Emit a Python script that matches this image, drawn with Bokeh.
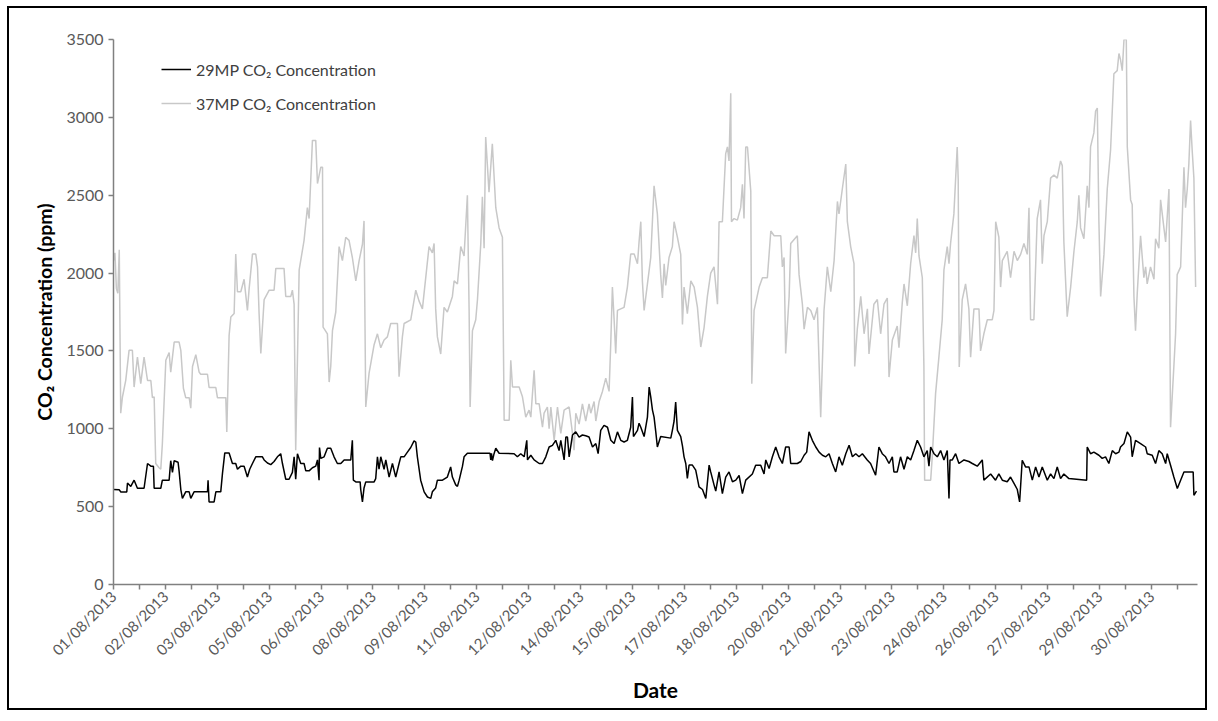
import math
from bokeh.plotting import figure
from bokeh.models import Range1d, FixedTicker, Legend, LegendItem
from bokeh.embed import file_html
from bokeh.resources import INLINE

# x values are hours since 01/08/2013 00:00
date_labels = ["01/08/2013", "02/08/2013", "03/08/2013", "05/08/2013", "06/08/2013",
               "08/08/2013", "09/08/2013", "11/08/2013", "12/08/2013", "14/08/2013",
               "15/08/2013", "17/08/2013", "18/08/2013", "20/08/2013", "21/08/2013",
               "23/08/2013", "24/08/2013", "26/08/2013", "27/08/2013", "29/08/2013",
               "30/08/2013"]
tick_hours = [18 * i for i in range(42)]
y_ticks = [0, 500, 1000, 1500, 2000, 2500, 3000, 3500]

gray_h = [0, 1, 2, 3, 4, 5, 6.2, 8.5, 10.8, 13.1, 14.3, 16.6, 18.9, 21.2, 23.6, 25.9, 27, 28.2,
          29.3, 31.6, 32.8, 33.9, 36.3, 38.6, 39.7, 42.1, 45.5, 46.7, 48.5, 50.1, 52.5, 53.6,
          54.8, 57.1, 59.4, 60.5, 65.2, 66.3, 71, 72.1, 77.9, 78.6, 80.2, 81.4, 83.7, 84.8, 86,
          88.3, 90.6, 92.9, 94.1, 96.4, 98.7, 99.9, 101, 102.2, 104.5, 108, 111.4, 112.6,
          118.3, 119.5, 123, 124.1, 125.3, 126.4, 128.8, 132.2, 134.5, 135.7, 138, 140.3,
          141.5, 143.8, 145, 145.4, 148.4, 149.6, 150.7, 151.9, 154.2, 156.5, 158.8, 161.1,
          163.4, 165.7, 168.1, 170.4, 172.7, 173.8, 175, 177.3, 180.8, 183.1, 185.4, 187.7,
          190, 192.3, 197, 198.1, 200.4, 201.6, 206.2, 209.7, 212, 214.3, 218.9, 221.2,
          222.4, 223.5, 224.7, 227, 229.3, 231.6, 235.1, 236.3, 238.6, 240.9, 243.2, 245.5,
          246.7, 247.4, 249, 251.3, 252.5, 254.8, 255.9, 257.1, 258.2, 260.5, 262.8, 265.2,
          267.5, 269.8, 271, 274.5, 275.6, 276.8, 281.4, 283.7, 286, 288.3, 289.5, 291.8,
          293, 295.3, 297.6, 298.7, 301, 302.2, 303.4, 305.7, 308, 310.3, 312.6, 316.1,
          318.4, 319.5, 320.7, 323, 325.3, 327.6, 329.9, 331.1, 333.4, 334.6, 336.9, 339.2,
          341.5, 343.8, 345, 346.1, 347.3, 348.4, 349.6, 354.2, 356.5, 358.8, 361.2, 363.5,
          364.6, 365.8, 366.9, 368.1, 370.4, 372.7, 375, 377.3, 379.6, 380.8, 382, 383.1,
          385.4, 387.7, 388.9, 391.2, 393.5, 394.7, 395.8, 398.1, 400.5, 402.8, 405.1,
          407.4, 409.7, 412, 414.3, 416.6, 419, 420.1, 422.4, 424.7, 425.9, 427, 428.2,
          428.7, 430.5, 432.8, 435.1, 436.3, 437.4, 438.6, 439.8, 442.1, 442.8, 444.4,
          447.9, 450.2, 453.6, 456, 458.3, 462.9, 464, 465.2, 466.3, 468.7, 469.8, 474.4,
          475.6, 477.9, 479.1, 481.4, 483.7, 486, 488.3, 490.6, 492.9, 495.2, 497.6, 499.9,
          502.2, 503.3, 505.6, 508, 509.1, 511.4, 513.7, 514.2, 516, 518.4, 520.7, 523,
          524.1, 527.5, 529.9, 532.2, 534.5, 536.8, 538, 540.3, 543.7, 544.9, 547.2, 548.4,
          550.7, 553, 555.3, 556.5, 557.6, 558.8, 561.1, 562.2, 562.7, 566.9, 568, 570.3,
          572.6, 574.9, 576.1, 578.4, 579.6, 580.7, 583, 585.3, 586, 586.7, 588.8, 591.1,
          593.4, 594.6, 596.9, 600.4, 601.5, 603.8, 606.2, 609.6, 610.8, 612, 614.2, 615.4,
          616.6, 620, 622.3, 624.7, 627, 629.3, 631.6, 633.9, 635.1, 636.2, 638.5, 640.8,
          643.1, 644.3, 645.5, 647.8, 650.1, 652.4, 654.7, 657, 658.2, 659.3, 661.6, 664,
          666.3, 668.6, 669.7, 670.9, 673.2, 675.5, 676.7, 677.8, 680.1, 681.3, 682.5,
          683.6, 684.8, 687.1, 689.4, 691.7, 694, 696.3, 697.5, 698.6, 699.8, 701, 702.6,
          703.3, 705.6, 706.7, 707.9, 709, 710.2, 712.5, 714.8, 716, 717.1, 719.4, 721.8,
          722.9, 725.2, 726.4, 728.7, 729.9, 732.2, 733.3, 735.6, 736.8, 737.9, 740.3,
          742.6, 743.7, 744.9, 746, 747.2, 748.3, 749.5, 750.7]
gray_v = [2080, 2130, 1900, 1870, 2150, 1100, 1204, 1311, 1504, 1504, 1268, 1460, 1290, 1460,
          1310, 1310, 1200, 1205, 777, 750, 740, 904, 1440, 1490, 1363, 1557, 1557, 1504,
          1260, 1200, 1200, 1132, 1400, 1476, 1364, 1350, 1350, 1265, 1265, 1200, 1200, 980,
          1600, 1718, 1740, 2122, 1880, 1880, 1960, 1760, 1900, 2122, 2122, 2040, 1740, 1483,
          1830, 1890, 1890, 2030, 2030, 1850, 1850, 1890, 1800, 862, 2020, 2210, 2420, 2350,
          2852, 2852, 2575, 2680, 2680, 1653, 1610, 1300, 1400, 1630, 1750, 2170, 2080, 2230,
          2210, 2100, 1950, 2080, 2185, 2335, 1140, 1357, 1540, 1610, 1520, 1570, 1590, 1676,
          1676, 1335, 1590, 1676, 1700, 1890, 1820, 1770, 2170, 2130, 2190, 1770, 1590, 1480,
          1780, 1750, 1850, 1950, 1930, 2170, 2110, 2500, 1760, 1140, 1630, 1700, 1830, 2190,
          2490, 2160, 2873, 2520, 2830, 2420, 2290, 2230, 1055, 1055, 1440, 1268, 1268, 1205,
          1075, 1120, 1075, 1375, 1160, 1160, 1010, 1100, 1140, 1000, 1140, 926, 1140, 970,
          1120, 1140, 970, 862, 1100, 1030, 1160, 1050, 1160, 1100, 1175, 1050, 1175, 1240,
          1325, 1240, 1560, 1910, 1700, 1483, 1760, 1780, 1910, 2122, 2122, 2060, 2200, 2330,
          1950, 1760, 1930, 2100, 2560, 2380, 1990, 1840, 2060, 1920, 2100, 2170, 2330, 2230,
          2120, 1670, 1910, 1740, 1950, 1910, 1780, 1525, 1650, 1850, 2000, 2040, 1800, 2330,
          2330, 2767, 2810, 2720, 3155, 2330, 2350, 2340, 2420, 2570, 2350, 2810, 2810, 2525,
          1290, 1760, 1910, 1970, 1970, 2270, 2240, 2240, 2040, 2100, 1483, 1850, 2190, 2240,
          1990, 1800, 1640, 1780, 1760, 1700, 1780, 1075, 1760, 2040, 1880, 2080, 2460, 2380,
          2540, 2700, 2330, 2170, 2060, 1400, 1640, 1850, 1610, 1770, 1480, 1800, 1830, 1610,
          1800, 1840, 1332, 1570, 1660, 1520, 1810, 1930, 1790, 2060, 2240, 2130, 2350, 2110,
          1970, 1400, 670, 670, 820, 1226, 1460, 1700, 2020, 2170, 2060, 2190, 2380, 2810,
          2600, 1397, 1830, 1930, 1770, 1460, 1770, 1770, 1500, 1610, 1700, 1700, 1760, 2330,
          2230, 1910, 2080, 2140, 1970, 2140, 2080, 2120, 2190, 2120, 2420, 1700, 1700, 2350,
          2470, 2060, 2240, 2330, 2610, 2630, 2610, 2720, 2690, 2200, 1720, 1910, 2140, 2330,
          2500, 2290, 2220, 2560, 2420, 2810, 2900, 3040, 3060, 2330, 1850, 2120, 2540, 2790,
          3280, 3300, 3410, 3370, 3300, 3500, 3500, 2810, 2470, 2440, 1850, 1630, 1870, 2240,
          1970, 2040, 1930, 2040, 1960, 2220, 2160, 2470, 2290, 2200, 2540, 1010, 1400, 1610,
          1990, 2040, 2680, 2420, 2540, 2700, 2980, 2790, 2610, 1910]

black_h = [0, 3.9, 5.1, 9.2, 9.7, 12, 14.3, 16.6, 21.2, 23.6, 25.9, 27.7, 28.2, 32.8, 33.9,
           38.6, 39.7, 40.9, 42.1, 44.8, 45.5, 46.7, 47.8, 50.1, 52.5, 53.6, 55.9, 65.2,
           65.6, 66.3, 69.8, 71, 74.4, 75.6, 77.2, 80.2, 82.5, 84.8, 86, 88.3, 90.6, 92.9,
           94.5, 96.4, 98.7, 103.3, 104.5, 106.8, 109.1, 111.4, 113.7, 116, 117.2, 119.5,
           121.8, 124.1, 125.3, 126.4, 127.6, 129.9, 132.2, 133.4, 135.7, 138, 140.3, 141.5,
           142.6, 142.9, 143.8, 146.1, 148.4, 150.7, 153, 155.3, 157.7, 160, 164.6, 165.7,
           166.4, 168.1, 171.1, 171.5, 172.7, 173.8, 175, 180.8, 181.9, 183.1, 184.2, 185.4,
           187.7, 188.9, 191.2, 193.5, 195.8, 198.1, 199.3, 201.6, 203.9, 206.2, 208.5,
           209.7, 210.8, 213.1, 215.5, 217.8, 220.1, 221.2, 223.5, 224.7, 228.2, 231.6,
           233.9, 235.1, 237.4, 238.6, 239.8, 242.1, 243.2, 245.5, 261.2, 261.7, 262.2,
           262.9, 264, 265.2, 267.5, 277.9, 280.2, 282.5, 284.9, 286.7, 287.2, 289.5, 291.8,
           295.3, 297.6, 299.9, 302.2, 304.5, 306.8, 309.1, 310.3, 312.6, 313.8, 314.9,
           316.1, 318.4, 320.7, 323, 325.3, 327.6, 329.9, 332.3, 334.6, 336.2, 338, 340.3,
           342.7, 345, 347.3, 349.6, 351.9, 354.2, 356.5, 358.8, 360, 360.7, 363.5, 364.6,
           365.8, 368.1, 370.4, 371.6, 372.7, 373.9, 375, 376.2, 377.3, 379.6, 386.6, 387.7,
           388.9, 390, 391.2, 393.5, 394.7, 395.8, 397, 398.1, 399.3, 401.6, 403.9, 406.2,
           408.6, 410.9, 413.2, 414.3, 416.6, 417.8, 420.1, 422.4, 424.7, 427, 429.4, 431.7,
           434, 436.3, 438.6, 443.2, 445.5, 449, 451.3, 452.5, 454.8, 457.1, 459.4, 461.7,
           464, 466.3, 468.7, 469.8, 474.4, 476.8, 479.1, 480.9, 482.5, 484.8, 487.2, 489.5,
           491.8, 494.1, 496.4, 498.7, 501, 503.3, 505.6, 508, 510.3, 512.6, 514.9, 517.2,
           519.5, 522.9, 525.2, 528.7, 531, 533.3, 535.6, 538, 540.3, 541.4, 543.7, 546,
           548.4, 550.7, 553, 555.3, 557.6, 559.9, 562.2, 564.5, 565.7, 566.9, 569.2, 571.5,
           573.8, 576.1, 578.4, 579.6, 580.3, 581.9, 584.2, 586.5, 590, 593.4, 595.8, 599.2,
           602.7, 603.8, 608.5, 611.9, 614.2, 616.6, 620, 622.3, 624.7, 627, 628.6, 630.4,
           632.7, 635.1, 637.4, 639.7, 642, 644.3, 647.8, 650.1, 652.4, 654.7, 657, 659.3,
           662.8, 675.1, 675.5, 677.8, 680.1, 683.6, 685.9, 688.2, 690.5, 692.9, 695.2,
           697.5, 698.6, 701, 703.3, 705.6, 706.7, 709, 712.5, 716, 717.1, 720.6, 722.9,
           725.2, 727.5, 729.9, 731, 733.3, 735.6, 738, 740.3, 742.6, 749, 749.5, 751.3]
black_v = [610, 609, 594, 594, 652, 630, 670, 618, 618, 777, 760, 760, 618, 618, 670, 670, 795,
           720, 795, 785, 730, 610, 553, 595, 595, 553, 595, 595, 670, 530, 530, 595, 595, 714,
           845, 845, 777, 777, 740, 760, 760, 690, 740, 777, 820, 820, 800, 780, 770, 790, 820,
           840, 777, 676, 676, 720, 820, 676, 840, 777, 777, 730, 730, 750, 760, 800, 670, 880,
           810, 820, 875, 875, 820, 777, 777, 800, 800, 926, 670, 659, 659, 610, 530, 620, 659,
           659, 680, 820, 740, 820, 740, 800, 690, 777, 690, 777, 820, 820, 850, 880, 922, 915,
           820, 670, 595, 562, 553, 595, 620, 670, 670, 690, 755, 690, 640, 630, 670, 760, 820,
           843, 843, 800, 843, 795, 840, 875, 843, 840, 820, 840, 820, 926, 800, 830, 800, 777,
           777, 820, 883, 894, 926, 860, 926, 800, 947, 947, 820, 960, 980, 947, 960, 955, 947,
           883, 905, 840, 990, 1022, 1010, 926, 905, 980, 926, 915, 926, 1010, 1204, 950, 990,
           1036, 1010, 950, 1075, 1268, 1205, 1120, 1075, 980, 883, 950, 940, 990, 1050, 1172,
           990, 950, 890, 820, 777, 682, 767, 767, 735, 627, 610, 552, 767, 723, 640, 600, 723,
           584, 690, 723, 660, 670, 700, 584, 670, 710, 766, 766, 710, 800, 745, 820, 883, 820,
           777, 883, 883, 777, 777, 790, 830, 850, 980, 926, 883, 850, 830, 820, 840, 777, 723,
           820, 766, 840, 894, 820, 840, 820, 840, 800, 777, 702, 883, 840, 820, 777, 820, 723,
           723, 820, 740, 820, 800, 860, 926, 883, 820, 860, 760, 883, 840, 820, 860, 800, 860,
           552, 800, 800, 840, 777, 800, 790, 777, 760, 800, 670, 710, 670, 710, 670, 660, 690,
           650, 610, 530, 798, 755, 755, 670, 755, 690, 755, 670, 710, 680, 755, 680, 710, 680,
           670, 883, 840, 850, 830, 810, 820, 777, 860, 840, 850, 883, 905, 980, 947, 820, 926,
           905, 883, 840, 830, 777, 860, 840, 777, 840, 766, 690, 616, 670, 723, 723, 573, 600]

FONT = "Lato"

p = figure(width=1200, height=704, output_backend="svg", toolbar_location=None,
           x_range=Range1d(0, 752), y_range=Range1d(0, 3500),
           min_border_left=104, min_border_right=12, min_border_top=31,
           min_border_bottom=128)
p.styles = {"border": "2px solid black", "margin-left": "7px", "margin-top": "6px"}
p.xgrid.visible = False
p.ygrid.visible = False
p.outline_line_color = None
p.background_fill_color = "white"
p.border_fill_color = "white"

r_gray = p.line(gray_h, gray_v, line_color="#c8c8c8", line_width=1.5)
r_black = p.line(black_h, black_v, line_color="black", line_width=1.5)

xa = p.xaxis[0]
ya = p.yaxis[0]
xa.ticker = FixedTicker(ticks=tick_hours)
overrides = {}
for i, t in enumerate(tick_hours):
    overrides[t] = date_labels[i // 2] if i % 2 == 0 and i // 2 < len(date_labels) else ""
xa.major_label_overrides = overrides
xa.major_label_orientation = math.pi / 4
ya.ticker = FixedTicker(ticks=y_ticks)

for ax in (xa, ya):
    ax.axis_line_color = "#808080"
    ax.axis_line_width = 1.5
    ax.major_tick_line_color = "#808080"
    ax.major_tick_line_width = 1.5
    ax.major_tick_out = 5
    ax.major_tick_in = 0
    ax.minor_tick_line_color = None
    ax.major_label_text_font = FONT
    ax.major_label_text_color = "#595959"
    ax.axis_label_text_font = FONT
    ax.axis_label_text_font_style = "bold"
    ax.axis_label_text_color = "black"

xa.major_label_text_font_size = "15px"
ya.major_label_text_font_size = "16px"
xa.axis_label = "Date"
xa.axis_label_text_font_size = "21px"
xa.major_label_standoff = 4
xa.axis_label_standoff = 9
ya.axis_label = "CO\u2082 Concentration (ppm)"
ya.axis_label_text_font_size = "19.5px"
ya.major_label_standoff = 5
ya.axis_label_standoff = 7

legend = Legend(items=[LegendItem(label="29MP CO\u2082 Concentration", renderers=[r_black]),
                       LegendItem(label="37MP CO\u2082 Concentration", renderers=[r_gray])],
                location=(48, 471))
legend.padding = 0
legend.margin = 0
legend.spacing = 14
legend.glyph_width = 30
legend.glyph_height = 20
legend.label_height = 20
legend.label_standoff = 5
legend.border_line_color = None
legend.background_fill_alpha = 0
legend.label_text_font = FONT
legend.label_text_font_size = "16px"
legend.label_text_color = "#404040"
p.add_layout(legend)

open("out.html", "w").write(file_html(p, INLINE))
